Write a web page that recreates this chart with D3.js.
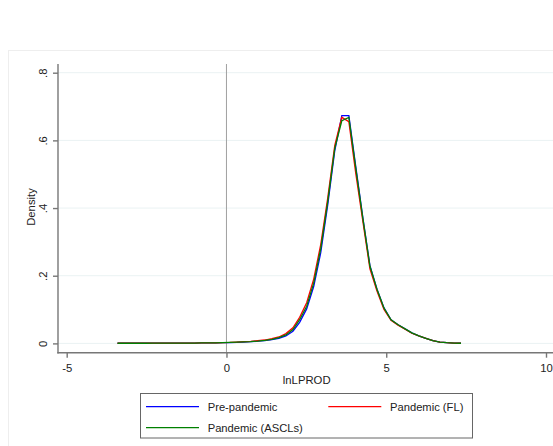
<!DOCTYPE html>
<html><head><meta charset="utf-8">
<script src="https://cdn.jsdelivr.net/npm/d3@7/dist/d3.min.js"></script>
<style>html,body{margin:0;padding:0;background:#fff;}svg{display:block;font-family:"Liberation Sans",Arial,sans-serif;}</style>
</head><body><svg id="c" width="553" height="446"></svg>
<script>
const xGrid = [-3.41,-3.19,-2.97,-2.75,-2.53,-2.31,-2.09,-1.87,-1.65,-1.44,-1.22,-1.00,-0.78,-0.56,-0.34,-0.12,0.10,0.32,0.54,0.76,0.98,1.20,1.42,1.64,1.86,2.08,2.29,2.51,2.73,2.95,3.17,3.39,3.61,3.83,4.05,4.27,4.49,4.71,4.93,5.15,5.37,5.59,5.80,6.02,6.24,6.46,6.68,6.90,7.12,7.34];
const prePandemic = [0.0005,0.0005,0.0005,0.0005,0.0005,0.0006,0.0006,0.0007,0.0008,0.0009,0.001,0.0011,0.0013,0.0015,0.0018,0.002,0.0025,0.003,0.004,0.005,0.0065,0.008,0.011,0.015,0.022,0.036,0.062,0.102,0.168,0.268,0.41,0.57,0.673,0.673,0.52,0.37,0.23,0.16,0.105,0.07,0.055,0.043,0.031,0.022,0.015,0.008,0.004,0.002,0.001,0.0005];
const pandemicFL = [0.0005,0.0005,0.0005,0.0005,0.0005,0.0006,0.0006,0.0007,0.0008,0.0009,0.001,0.0011,0.0013,0.0015,0.0018,0.0025,0.003,0.004,0.005,0.006,0.008,0.010,0.014,0.019,0.029,0.046,0.077,0.12,0.19,0.292,0.43,0.585,0.668,0.655,0.50,0.36,0.22,0.155,0.10,0.068,0.054,0.042,0.03,0.022,0.015,0.008,0.004,0.002,0.001,0.0005];
const pandemicASCLs = [0.0005,0.0005,0.0005,0.0005,0.0005,0.0006,0.0006,0.0007,0.0008,0.0009,0.001,0.0011,0.0013,0.0015,0.0018,0.0022,0.0028,0.0035,0.0045,0.0055,0.007,0.009,0.012,0.017,0.025,0.041,0.07,0.11,0.178,0.28,0.42,0.577,0.658,0.668,0.515,0.368,0.228,0.16,0.104,0.07,0.055,0.043,0.031,0.022,0.015,0.008,0.004,0.002,0.001,0.0005];
const seriesNames = ["Pre-pandemic","Pandemic (FL)","Pandemic (ASCLs)"];
const seriesColors = ["#0000ff","#ff0000","#008000"];
const xTicks = [-5,0,5,10];
const xTickLabels = ["-5","0","5","10"];
const yTicks = [0,0.2,0.4,0.6,0.8];
const yTickLabels = ["0",".2",".4",".6",".8"];

const svg = d3.select("#c");
const x = d3.scaleLinear().domain([-5,10]).range([66.7,546]);
const y = d3.scaleLinear().domain([0,0.8]).range([343.4,72.7]);
const axisLeftX = 58, axisBottomY = 352.7, plotTop = 64, rightEdge = 560;

// graph region border (faint)
svg.append("rect").attr("x",8.5).attr("y",50.5).attr("width",600).attr("height",500)
  .attr("fill","none").attr("stroke","#eeeeee").attr("stroke-width",1);

// gridlines
svg.append("g").selectAll("line").data(yTicks).join("line")
  .attr("x1",axisLeftX).attr("x2",rightEdge)
  .attr("y1",d=>y(d)).attr("y2",d=>y(d))
  .attr("stroke","#eaf2f3").attr("stroke-width",1);

// vertical reference line at 0
svg.append("line").attr("x1",x(0)).attr("x2",x(0)).attr("y1",plotTop).attr("y2",axisBottomY)
  .attr("stroke","#a0a0a0").attr("stroke-width",1);

// curves
const allSeries = [prePandemic,pandemicFL,pandemicASCLs];
const line = d3.line().x((d,i)=>x(xGrid[i])).y(d=>y(d));
allSeries.forEach((s,k)=>{
  svg.append("path").datum(s).attr("d",line).attr("fill","none")
    .attr("stroke",seriesColors[k]).attr("stroke-width",1.3).attr("stroke-linejoin","miter");
});

// y axis
const yAxis = d3.axisLeft(y).tickValues(yTicks).tickFormat((d,i)=>yTickLabels[i]).tickSize(5).tickPadding(3);
const gy = svg.append("g").attr("transform",`translate(${axisLeftX},0)`).call(yAxis);
gy.select(".domain").remove();
gy.append("line").attr("x1",0).attr("x2",0).attr("y1",plotTop).attr("y2",axisBottomY+0.7);
gy.selectAll("line").attr("stroke","#777").attr("stroke-width",1.4);
gy.selectAll("text").attr("x",null).attr("dy",null)
  .attr("transform",d=>`translate(-15,0) rotate(-90)`)
  .attr("text-anchor","middle").attr("dominant-baseline","central")
  .attr("font-size","11.3px").attr("fill","#222").attr("font-family","Liberation Sans, Arial, sans-serif");

// x axis
const xAxis = d3.axisBottom(x).tickValues(xTicks).tickFormat((d,i)=>xTickLabels[i]).tickSize(5).tickPadding(4);
const gx = svg.append("g").attr("transform",`translate(0,${axisBottomY})`).call(xAxis);
gx.select(".domain").remove();
gx.append("line").attr("x1",axisLeftX-0.7).attr("x2",rightEdge).attr("y1",0).attr("y2",0);
gx.selectAll("line").attr("stroke","#777").attr("stroke-width",1.4);
gx.selectAll("text").attr("dy",null).attr("y",15.6).attr("dominant-baseline","central")
  .attr("font-size","11.3px").attr("fill","#222").attr("font-family","Liberation Sans, Arial, sans-serif");

// axis titles
svg.append("text").attr("x",306.7).attr("y",380).attr("text-anchor","middle").attr("dominant-baseline","central")
  .attr("font-size","11.3px").attr("fill","#222").text("lnLPROD");
svg.append("text").attr("transform","translate(30.7,207) rotate(-90)").attr("text-anchor","middle").attr("dominant-baseline","central")
  .attr("font-size","11.3px").attr("fill","#222").text("Density");

// legend
const lg = svg.append("g");
lg.append("rect").attr("x",140.5).attr("y",393.5).attr("width",332).attr("height",44.5)
  .attr("fill","#fff").attr("stroke","#666").attr("stroke-width",1);
const legPos = [[146,406.7],[328.3,406.7],[146,427.7]];
seriesNames.forEach((n,k)=>{
  const [lx,ly] = legPos[k];
  lg.append("line").attr("x1",lx).attr("x2",lx+53).attr("y1",ly).attr("y2",ly)
    .attr("stroke",seriesColors[k]).attr("stroke-width",1.3);
  lg.append("text").attr("x",lx+61.7).attr("y",ly).attr("dominant-baseline","central")
    .attr("font-size","11.2px").attr("fill","#222").text(n);
});
</script></body></html>
